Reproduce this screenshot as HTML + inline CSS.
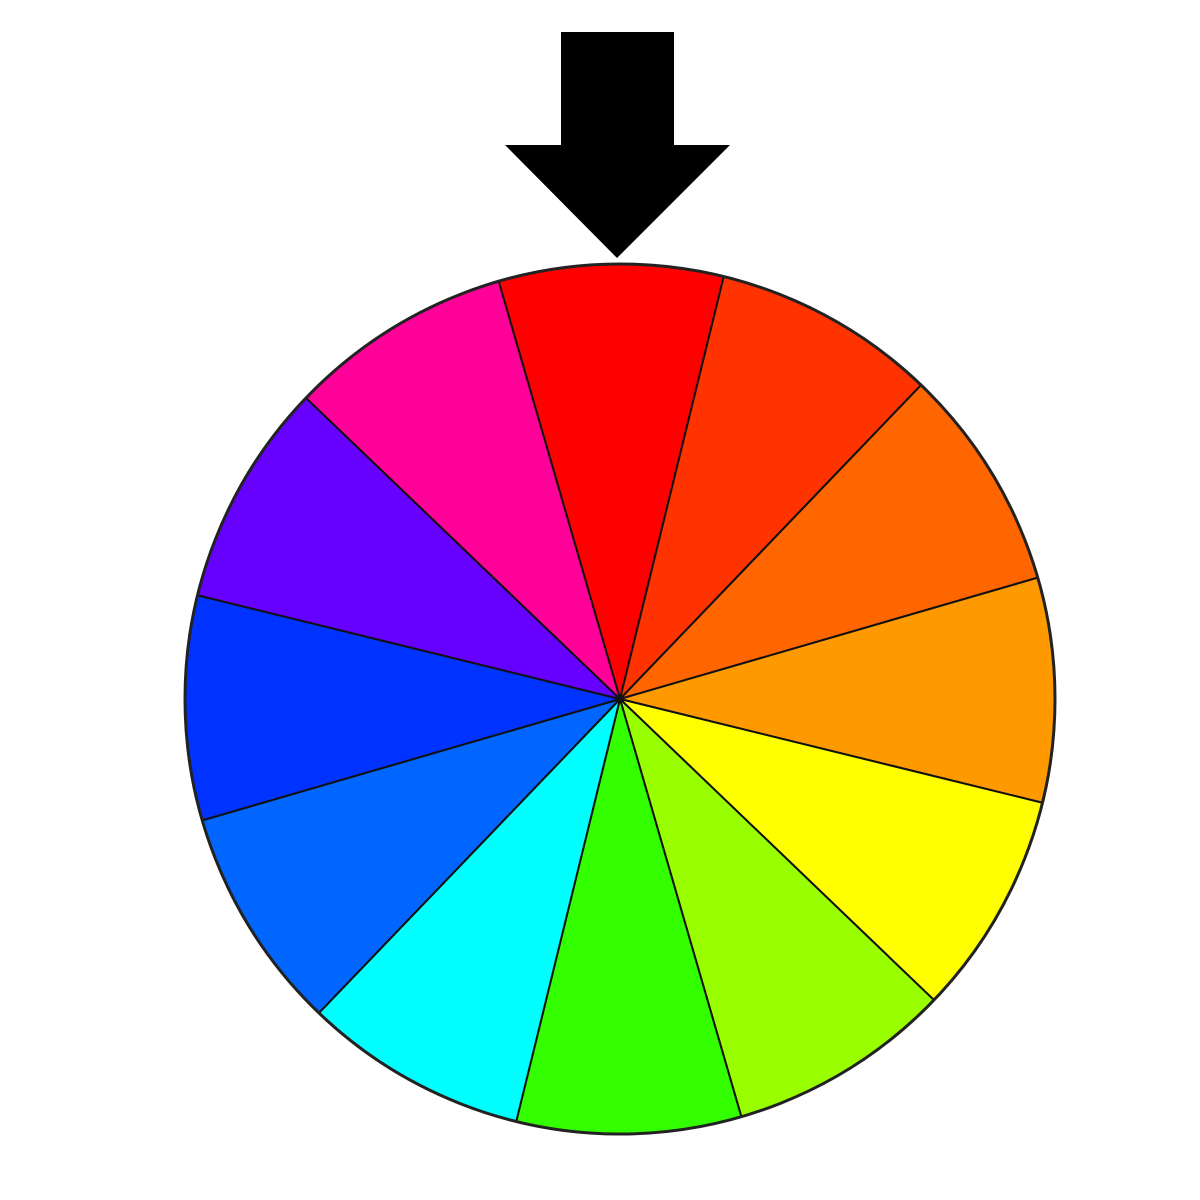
<!DOCTYPE html>
<html>
<head>
<meta charset="utf-8">
<style>
html,body{margin:0;padding:0;background:#fff;width:1200px;height:1200px;overflow:hidden;font-family:"Liberation Sans",sans-serif;}
svg{display:block;}
</style>
</head>
<body>
<svg id="chart" width="1200" height="1200" viewBox="0 0 1200 1200">
  <g id="slices"></g>
  <circle cx="620" cy="699" r="435" fill="none" stroke="#222" stroke-width="3"></circle>
  <polygon points="561,32 674,32 674,145 730,145 617,258 505,145 561,145" fill="#000"></polygon>
</svg>
<script>
const categories = ["red","red-orange","orange","orange-yellow","yellow","yellow-green","green","cyan","azure","blue","violet","magenta"];
const values = [1,1,1,1,1,1,1,1,1,1,1,1];
const colors = ["#ff0000","#ff3300","#ff6600","#ff9900","#ffff00","#99ff00","#33ff00","#00ffff","#0066ff","#0033ff","#6600ff","#ff0099"];

const cx = 620, cy = 699, R = 435, startDeg = -16.2;
const total = values.reduce((a,b)=>a+b,0);
function pt(deg){ const r = deg*Math.PI/180; return [cx + R*Math.sin(r), cy - R*Math.cos(r)]; }
const g = document.getElementById('slices');
let acc = 0;
values.forEach((v,i)=>{
  const a0 = startDeg + acc/total*360;
  acc += v;
  const a1 = startDeg + acc/total*360;
  const p0 = pt(a0), p1 = pt(a1);
  const large = (a1-a0) > 180 ? 1 : 0;
  const path = document.createElementNS('http://www.w3.org/2000/svg','path');
  path.setAttribute('d', `M${cx},${cy} L${p0[0]},${p0[1]} A${R},${R} 0 ${large} 1 ${p1[0]},${p1[1]} Z`);
  path.setAttribute('fill', colors[i]);
  path.setAttribute('stroke', '#111');
  path.setAttribute('stroke-width', '2');
  
  
  g.appendChild(path);
});
</script>
</body>
</html>
